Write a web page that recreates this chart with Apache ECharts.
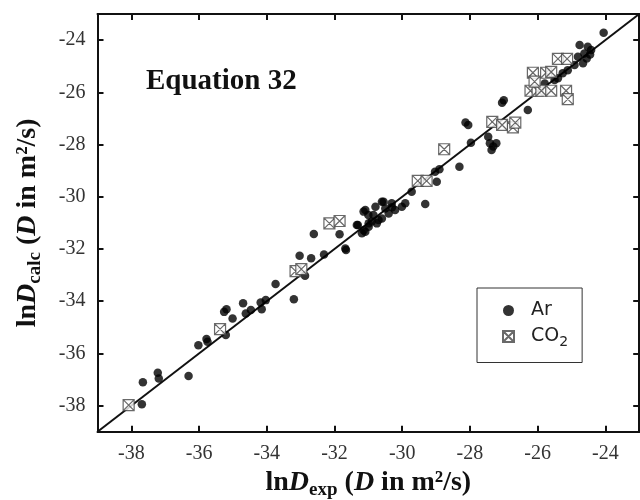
<!DOCTYPE html>
<html><head><meta charset="utf-8">
<script src="https://cdn.jsdelivr.net/npm/echarts@6/dist/echarts.min.js"></script>
<style>html,body{margin:0;padding:0;background:#fff}#c{width:640px;height:500px}</style>
</head><body><div id="c"></div>
<script>
const tickValues = [-38, -36, -34, -32, -30, -28, -26, -24];
const axisMin = -39, axisMax = -23;
const fitLine = [-39, -23];
const arX = [-37.69,-37.66,-37.22,-37.19,-36.31,-36.02,-35.78,-35.75,-35.21,-35.26,-35.19,-35.01,-34.70,-34.62,-34.47,-34.18,-34.15,-34.03,-33.74,-33.20,
  -33.03,-32.87,-32.69,-32.61,-32.31,-31.85,-31.68,-31.66,-31.31,-31.14,-31.34,
  -31.09,-30.60,-30.31,-30.01,-29.91,-30.99,-31.14,-30.70,-30.40,-30.21,-30.79,-30.55,-30.99,-30.75,-30.60,-31.09,-31.19,-30.85,-30.50,-30.30,-30.90,-31.00,
  -29.32,-29.72,-28.98,-29.03,-28.90,-28.31,-27.97,-28.13,-28.05,-27.46,-27.41,-27.31,-27.22,-27.36,-26.29,-27.05,-27.00,
  -24.05,-24.76,-24.52,-24.42,-24.62,-24.81,-24.66,-24.91,-25.11,-25.26,-25.40,-25.50,-25.79,-24.45,-24.55];
const arY = [-37.95,-37.11,-36.74,-36.96,-36.87,-35.69,-35.45,-35.55,-35.30,-34.41,-34.31,-34.66,-34.08,-34.47,-34.34,-34.05,-34.31,-33.96,-33.34,-33.93,
  -32.26,-33.03,-32.36,-31.43,-32.21,-31.44,-31.98,-32.04,-31.08,-30.57,-31.08,
  -30.51,-30.19,-30.25,-30.38,-30.25,-31.02,-31.28,-30.89,-30.64,-30.51,-30.38,-30.19,-31.15,-31.02,-30.83,-31.34,-31.40,-30.70,-30.45,-30.40,-30.95,-30.70,
  -30.28,-29.81,-29.43,-29.04,-28.95,-28.85,-27.93,-27.16,-27.25,-27.70,-27.95,-28.08,-27.95,-28.21,-26.68,-26.40,-26.30,
  -23.72,-24.19,-24.25,-24.38,-24.51,-24.64,-24.89,-24.95,-25.15,-25.27,-25.46,-25.53,-25.66,-24.55,-24.70];
const co2X = [-38.08,-35.38,-33.15,-32.98,-32.15,-31.85,-29.54,-29.28,-28.76,-27.34,-27.05,-26.73,-26.66,
  -26.21,-26.00,-25.89,-25.60,-25.16,-25.11,-26.14,-25.75,-25.60,-26.09,-25.40,-25.13];
const co2Y = [-37.98,-35.07,-32.85,-32.77,-31.02,-30.93,-29.39,-29.39,-28.18,-27.13,-27.25,-27.34,-27.16,
  -25.94,-25.94,-25.94,-25.94,-25.94,-26.26,-25.25,-25.25,-25.22,-25.59,-24.72,-24.72];

const boxX = 'path://M0,0H10V10H0Z M0,0L10,10 M10,0L0,10';
const serif = '"Liberation Serif","Times New Roman",serif';
const sans = '"DejaVu Sans","Noto Sans",sans-serif';

const nameRich = {
  b: {fontFamily: serif, fontWeight: 'bold', fontSize: 28, color: '#111'},
  i: {fontFamily: serif, fontWeight: 'bold', fontStyle: 'italic', fontSize: 28, color: '#111'},
  sub: {fontFamily: serif, fontWeight: 'bold', fontSize: 19, color: '#111', padding: [14, 0, 0, 0]}
};
function baseAxis(pos, showLabel) {
  return {
    type: 'value', min: axisMin, max: axisMax, position: pos,
    axisLine: {show: true, onZero: false, lineStyle: {color: '#111', width: 2}},
    axisTick: {show: true, inside: true, length: 6, lineStyle: {color: '#111', width: 2}, customValues: tickValues},
    axisLabel: {show: showLabel, customValues: tickValues, fontFamily: serif, fontSize: 20, color: '#333', margin: 12},
    splitLine: {show: false}
  };
}
const chart = echarts.init(document.getElementById('c'));
const xb = baseAxis('bottom', true);
xb.name = '{b|ln}{i|D}{sub|exp}{b| (}{i|D}{b| in m²/s)}';
xb.nameLocation = 'middle'; xb.nameGap = 29;
xb.nameTextStyle = {rich: nameRich};
const yl = baseAxis('left', true);
yl.name = '{b|ln}{i|D}{sub|calc}{b| (}{i|D}{b| in m²/s)}';
yl.nameLocation = 'middle'; yl.nameGap = 53; yl.nameRotate = 90;
yl.nameTextStyle = {rich: nameRich};
chart.setOption({
  animation: false,
  title: {text: 'Equation 32', left: 146, top: 67, padding: 0, textStyle: {fontFamily: serif, fontWeight: 'bold', fontSize: 29, color: '#111'}},
  grid: {left: 97.5, top: 14, right: 0.8, bottom: 68.3, outerBoundsMode: 'none', containLabel: false},
  xAxis: [xb, baseAxis('top', false)],
  yAxis: [yl, baseAxis('right', false)],
  legend: {
    orient: 'vertical', left: 477, top: 288,
    padding: [13, 14, 13, 25], itemGap: 7, itemWidth: 11, itemHeight: 11,
    borderColor: '#333', borderWidth: 1,
    textStyle: {fontFamily: sans, fontSize: 19, color: '#222', padding: [0, 0, 0, 12],
      rich: {sub: {fontFamily: sans, fontSize: 14, color: '#222', padding: [12, 0, 0, 0]}}},
    formatter: n => n === 'CO2' ? 'CO{sub|2}' : n,
    data: [{name: 'Ar', icon: 'circle'}, {name: 'CO2', icon: boxX}]
  },
  series: [
    {type: 'line', name: 'fit', data: [[fitLine[0], fitLine[0]], [fitLine[1], fitLine[1]]], showSymbol: false, lineStyle: {color: '#111', width: 2}, silent: true, z: 1},
    {type: 'scatter', name: 'Ar', data: arX.map((x, i) => [x, arY[i]]), symbol: 'circle', symbolSize: 8.5, itemStyle: {color: '#000'}, z: 2},
    {type: 'scatter', name: 'CO2', data: co2X.map((x, i) => [x, co2Y[i]]), symbol: boxX, symbolSize: 11, itemStyle: {color: '#fff', borderColor: '#444', borderWidth: 1.2}, z: 3}
  ]
});
</script></body></html>
